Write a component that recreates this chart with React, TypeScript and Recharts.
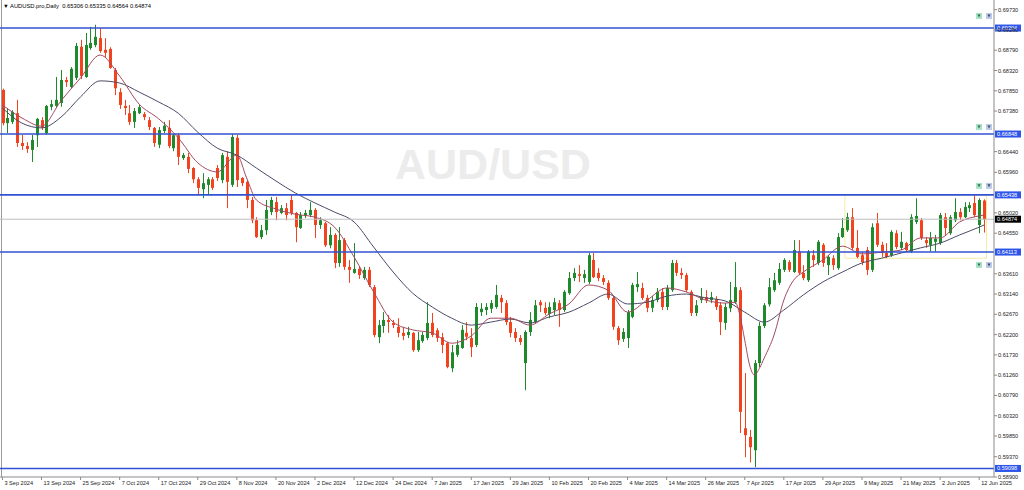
import React from 'react';
import { ComposedChart, Bar, Line, XAxis, YAxis, ReferenceLine, ReferenceArea } from 'recharts';

// daily AUDUSD candles, 3 Sep 2024 .. 13 Jun 2025 (bar index = position on the time scale)
const opens = [
  0.6787, 0.6710, 0.6713, 0.6733, 0.6664, 0.6657, 0.6648, 0.6682, 0.6717, 0.6687,
  0.6748, 0.6750, 0.6757, 0.6810, 0.6794, 0.6815, 0.6887, 0.6817, 0.6884, 0.6891,
  0.6907, 0.6880, 0.6882, 0.6833, 0.6782, 0.6750, 0.6733, 0.6713, 0.6733, 0.6731,
  0.6717, 0.6699, 0.6660, 0.6692, 0.6699, 0.6652, 0.6682, 0.6629, 0.6632, 0.6606,
  0.6580, 0.6557, 0.6567, 0.6580, 0.6606, 0.6578, 0.6632, 0.6567, 0.6676, 0.6583,
  0.6574, 0.6532, 0.6485, 0.6446, 0.6462, 0.6504, 0.6527, 0.6502, 0.6513, 0.6532,
  0.6502, 0.6467, 0.6495, 0.6497, 0.6509, 0.6474, 0.6478, 0.6427, 0.6451, 0.6386,
  0.6439, 0.6377, 0.6363, 0.6372, 0.6351, 0.6370, 0.6330, 0.6214, 0.6240, 0.6254,
  0.6247, 0.6238, 0.6224, 0.6219, 0.6224, 0.6184, 0.6205, 0.6212, 0.6247, 0.6230,
  0.6214, 0.6200, 0.6142, 0.6173, 0.6189, 0.6224, 0.6212, 0.6196, 0.6272, 0.6277,
  0.6280, 0.6284, 0.6305, 0.6293, 0.6249, 0.6226, 0.6212, 0.6154, 0.6226, 0.6249,
  0.6295, 0.6282, 0.6268, 0.6277, 0.6293, 0.6277, 0.6316, 0.6351, 0.6360, 0.6351,
  0.6342, 0.6393, 0.6363, 0.6351, 0.6340, 0.6305, 0.6235, 0.6210, 0.6212, 0.6261,
  0.6330, 0.6328, 0.6305, 0.6282, 0.6300, 0.6319, 0.6284, 0.6323, 0.6386, 0.6363,
  0.6358, 0.6319, 0.6270, 0.6300, 0.6307, 0.6300, 0.6302, 0.6288, 0.6247, 0.6281,
  0.6295, 0.6323, 0.6003, 0.5983, 0.5952, 0.6154, 0.6240, 0.6290, 0.6323, 0.6340,
  0.6370, 0.6388, 0.6365, 0.6412, 0.6363, 0.6346, 0.6404, 0.6386, 0.6428, 0.6381,
  0.6397, 0.6374, 0.6446, 0.6462, 0.6492, 0.6421, 0.6404, 0.6416, 0.6370, 0.6478,
  0.6428, 0.6409, 0.6404, 0.6455, 0.6421, 0.6432, 0.6412, 0.6481, 0.6485, 0.6439,
  0.6428, 0.6435, 0.6432, 0.6492, 0.6455, 0.6485, 0.6504, 0.6492, 0.6513, 0.6525,
  0.6474, 0.65306,
];
const highs = [
  0.6790, 0.6745, 0.6740, 0.6764, 0.6683, 0.6666, 0.6683, 0.6722, 0.6724, 0.6752,
  0.6764, 0.6817, 0.6833, 0.6817, 0.6840, 0.6896, 0.6903, 0.6919, 0.6933, 0.6938,
  0.6930, 0.6907, 0.6886, 0.6838, 0.6791, 0.6764, 0.6752, 0.6745, 0.6752, 0.6736,
  0.6724, 0.6701, 0.6701, 0.6713, 0.6717, 0.6685, 0.6687, 0.6641, 0.6641, 0.6608,
  0.6585, 0.6594, 0.6585, 0.6585, 0.6613, 0.6641, 0.6645, 0.6685, 0.6683, 0.6585,
  0.6578, 0.6539, 0.6492, 0.6474, 0.6532, 0.6539, 0.6539, 0.6520, 0.6525, 0.6543,
  0.6504, 0.6504, 0.6509, 0.6527, 0.6513, 0.6492, 0.6481, 0.6469, 0.6455, 0.6469,
  0.6444, 0.6393, 0.6432, 0.6377, 0.6377, 0.6377, 0.6335, 0.6254, 0.6272, 0.6265,
  0.6254, 0.6258, 0.6238, 0.6238, 0.6226, 0.6226, 0.6226, 0.6295, 0.6270, 0.6235,
  0.6224, 0.6203, 0.6196, 0.6207, 0.6242, 0.6249, 0.6235, 0.6293, 0.6293, 0.6293,
  0.6300, 0.6335, 0.6312, 0.6300, 0.6261, 0.6235, 0.6219, 0.6230, 0.6272, 0.6300,
  0.6300, 0.6295, 0.6295, 0.6305, 0.6300, 0.6323, 0.6365, 0.6374, 0.6381, 0.6370,
  0.6409, 0.6409, 0.6374, 0.6358, 0.6346, 0.6309, 0.6240, 0.6235, 0.6277, 0.6340,
  0.6365, 0.6340, 0.6312, 0.6309, 0.6328, 0.6328, 0.6335, 0.6393, 0.6393, 0.6374,
  0.6363, 0.6323, 0.6300, 0.6328, 0.6323, 0.6319, 0.6309, 0.6295, 0.6293, 0.6342,
  0.6388, 0.6330, 0.6131, 0.5999, 0.6161, 0.6249, 0.6293, 0.6351, 0.6363, 0.6386,
  0.6397, 0.6393, 0.6439, 0.6439, 0.6381, 0.6416, 0.6416, 0.6439, 0.6432, 0.6404,
  0.6404, 0.6455, 0.6490, 0.6502, 0.6513, 0.6462, 0.6412, 0.6423, 0.6478, 0.6502,
  0.6435, 0.6432, 0.6462, 0.6462, 0.6458, 0.6435, 0.6499, 0.6536, 0.6490, 0.6446,
  0.6458, 0.6451, 0.6502, 0.6502, 0.6497, 0.6536, 0.6513, 0.6527, 0.6527, 0.6543,
  0.6536, 0.65335,
];
const lows = [
  0.6705, 0.6687, 0.6708, 0.6655, 0.6648, 0.6641, 0.6620, 0.6655, 0.6694, 0.6683,
  0.6740, 0.6745, 0.6748, 0.6794, 0.6791, 0.6810, 0.6812, 0.6815, 0.6880, 0.6886,
  0.6873, 0.6861, 0.6836, 0.6775, 0.6743, 0.6729, 0.6706, 0.6699, 0.6731, 0.6717,
  0.6694, 0.6655, 0.6652, 0.6687, 0.6652, 0.6645, 0.6613, 0.6625, 0.6594, 0.6571,
  0.6543, 0.6536, 0.6543, 0.6555, 0.6576, 0.6571, 0.6513, 0.6562, 0.6562, 0.6564,
  0.6513, 0.6478, 0.6444, 0.6441, 0.6451, 0.6497, 0.6485, 0.6499, 0.6485, 0.6497,
  0.6434, 0.6465, 0.6490, 0.6492, 0.6444, 0.6465, 0.6423, 0.6420, 0.6374, 0.6377,
  0.6370, 0.6340, 0.6361, 0.6349, 0.6347, 0.6330, 0.6214, 0.6200, 0.6224, 0.6224,
  0.6235, 0.6214, 0.6207, 0.6212, 0.6180, 0.6180, 0.6201, 0.6207, 0.6214, 0.6203,
  0.6177, 0.6142, 0.6133, 0.6168, 0.6187, 0.6207, 0.6168, 0.6191, 0.6263, 0.6265,
  0.6270, 0.6280, 0.6270, 0.6242, 0.6214, 0.6203, 0.6196, 0.6091, 0.6217, 0.6245,
  0.6272, 0.6265, 0.6258, 0.6265, 0.6238, 0.6272, 0.6312, 0.6344, 0.6342, 0.6340,
  0.6337, 0.6351, 0.6344, 0.6335, 0.6300, 0.6231, 0.6196, 0.6203, 0.6189, 0.6258,
  0.6319, 0.6300, 0.6272, 0.6272, 0.6295, 0.6277, 0.6277, 0.6319, 0.6356, 0.6349,
  0.6319, 0.6263, 0.6263, 0.6293, 0.6293, 0.6293, 0.6277, 0.6219, 0.6231, 0.6272,
  0.6291, 0.5992, 0.5936, 0.5924, 0.5913, 0.6145, 0.6235, 0.6285, 0.6319, 0.6335,
  0.6365, 0.6365, 0.6363, 0.6358, 0.6346, 0.6342, 0.6377, 0.6381, 0.6377, 0.6358,
  0.6370, 0.6370, 0.6444, 0.6458, 0.6416, 0.6397, 0.6381, 0.6358, 0.6365, 0.6423,
  0.6400, 0.6397, 0.6400, 0.6418, 0.6416, 0.6412, 0.6409, 0.6476, 0.6439, 0.6421,
  0.6412, 0.6412, 0.6428, 0.6451, 0.6451, 0.6481, 0.6485, 0.6490, 0.6504, 0.6492,
  0.6455, 0.64564,
];
const closes = [
  0.6710, 0.6722, 0.6736, 0.6664, 0.6657, 0.6650, 0.6671, 0.6720, 0.6699, 0.6750,
  0.6754, 0.6764, 0.6810, 0.6805, 0.6836, 0.6889, 0.6819, 0.6891, 0.6896, 0.6910,
  0.6877, 0.6873, 0.6838, 0.6791, 0.6752, 0.6745, 0.6713, 0.6738, 0.6747, 0.6724,
  0.6701, 0.6664, 0.6694, 0.6704, 0.6657, 0.6682, 0.6632, 0.6636, 0.6604, 0.6580,
  0.6560, 0.6571, 0.6580, 0.6560, 0.6583, 0.6636, 0.6574, 0.6678, 0.6578, 0.6571,
  0.6532, 0.6485, 0.6446, 0.6462, 0.6509, 0.6532, 0.6504, 0.6513, 0.6497, 0.6502,
  0.6469, 0.6497, 0.6502, 0.6509, 0.6474, 0.6485, 0.6427, 0.6451, 0.6386, 0.6439,
  0.6377, 0.6370, 0.6372, 0.6358, 0.6370, 0.6335, 0.6219, 0.6242, 0.6254, 0.6249,
  0.6242, 0.6224, 0.6217, 0.6226, 0.6184, 0.6207, 0.6219, 0.6247, 0.6219, 0.6212,
  0.6196, 0.6145, 0.6179, 0.6196, 0.6231, 0.6215, 0.6191, 0.6284, 0.6280, 0.6284,
  0.6293, 0.6312, 0.6295, 0.6249, 0.6224, 0.6212, 0.6203, 0.6226, 0.6254, 0.6288,
  0.6288, 0.6270, 0.6284, 0.6295, 0.6277, 0.6319, 0.6351, 0.6363, 0.6356, 0.6360,
  0.6404, 0.6353, 0.6351, 0.6342, 0.6305, 0.6238, 0.6207, 0.6226, 0.6272, 0.6335,
  0.6337, 0.6305, 0.6282, 0.6300, 0.6319, 0.6284, 0.6328, 0.6386, 0.6363, 0.6358,
  0.6323, 0.6270, 0.6288, 0.6307, 0.6300, 0.6307, 0.6284, 0.6249, 0.6284, 0.6300,
  0.6330, 0.6041, 0.5987, 0.5959, 0.6154, 0.6240, 0.6288, 0.6330, 0.6346, 0.6372,
  0.6393, 0.6370, 0.6416, 0.6363, 0.6351, 0.6412, 0.6393, 0.6435, 0.6386, 0.6400,
  0.6381, 0.6446, 0.6467, 0.6492, 0.6421, 0.6400, 0.6388, 0.6370, 0.6469, 0.6428,
  0.6409, 0.6400, 0.6458, 0.6423, 0.6435, 0.6416, 0.6492, 0.6495, 0.6444, 0.6432,
  0.6444, 0.6442, 0.6497, 0.6467, 0.6492, 0.6504, 0.6492, 0.6516, 0.6520, 0.6497,
  0.6532, 0.64874,
];

// moving averages at a few bars: [bar, value]
const fastMa = [
  [0, 0.6752], [4, 0.6722], [8, 0.6703], [12, 0.6762], [16, 0.6815], [20, 0.6868],
  [24, 0.6819], [28, 0.6754], [32, 0.6720], [36, 0.6676], [40, 0.6618], [44, 0.6597],
  [48, 0.6636], [50, 0.6583], [52, 0.6532], [56, 0.6511], [60, 0.6499], [64, 0.6492],
  [68, 0.6469], [72, 0.6400], [76, 0.6319], [80, 0.6249], [84, 0.6231], [88, 0.6224],
  [92, 0.6200], [96, 0.6217], [100, 0.6258], [104, 0.6258], [108, 0.6242], [112, 0.6268],
  [116, 0.6291], [120, 0.6335], [124, 0.6323], [128, 0.6272], [132, 0.6300], [136, 0.6328],
  [140, 0.6319], [144, 0.6300], [148, 0.6293], [150, 0.6295], [151, 0.6265], [152, 0.6207],
  [153, 0.6149], [154, 0.6126], [155, 0.6142], [156, 0.6166], [158, 0.6219], [160, 0.6300],
  [162, 0.6346], [164, 0.6365], [168, 0.6393], [172, 0.6425], [176, 0.6407], [180, 0.6411],
  [184, 0.6416], [188, 0.6444], [192, 0.6444], [196, 0.6481], [200, 0.6495], [201, 0.6497],
];
const slowMa = [
  [0, 0.6745], [4, 0.6710], [8, 0.6699], [12, 0.6724], [16, 0.6771], [20, 0.6808],
  [24, 0.6803], [28, 0.6782], [32, 0.6759], [36, 0.6733], [40, 0.6689], [44, 0.6652],
  [48, 0.6636], [52, 0.6606], [56, 0.6576], [60, 0.6548], [64, 0.6525], [68, 0.6504],
  [72, 0.6481], [76, 0.6423], [80, 0.6365], [84, 0.6316], [88, 0.6284], [92, 0.6258],
  [96, 0.6242], [100, 0.6249], [104, 0.6256], [108, 0.6247], [112, 0.6261], [116, 0.6272],
  [120, 0.6293], [124, 0.6314], [128, 0.6291], [132, 0.6295], [136, 0.6309], [140, 0.6314],
  [144, 0.6305], [148, 0.6298], [152, 0.6272], [156, 0.6249], [160, 0.6277], [164, 0.6312],
  [168, 0.6342], [172, 0.6365], [176, 0.6386], [180, 0.6397], [184, 0.6409], [188, 0.6421],
  [192, 0.6432], [196, 0.6451], [200, 0.6469], [201, 0.6474],
];

const dateTicks = [0, 8, 16, 24, 32, 40, 48, 56, 64, 72, 80, 88, 96, 104, 112, 120, 128, 136, 144, 152, 160, 168, 176, 184, 192, 200];
const dateLabels = [
  '3 Sep 2024', '13 Sep 2024', '25 Sep 2024', '7 Oct 2024', '17 Oct 2024', '29 Oct 2024',
  '8 Nov 2024', '20 Nov 2024', '2 Dec 2024', '12 Dec 2024', '24 Dec 2024', '7 Jan 2025',
  '17 Jan 2025', '29 Jan 2025', '10 Feb 2025', '20 Feb 2025', '4 Mar 2025', '14 Mar 2025',
  '26 Mar 2025', '7 Apr 2025', '17 Apr 2025', '29 Apr 2025', '9 May 2025', '21 May 2025',
  '2 Jun 2025', '12 Jun 2025',
];
const priceTicks = [
  0.6973, 0.6926, 0.6879, 0.6832, 0.6785, 0.6738, 0.6644, 0.6596, 0.6502, 0.6455,
  0.6361, 0.6314, 0.6267, 0.622, 0.6173, 0.6126, 0.6079, 0.6032, 0.5985, 0.5937, 0.589,
];

// horizontal levels drawn on the chart, with the offset of their alert icons
const levels = [0.69304, 0.66848, 0.65438, 0.64113, 0.59098];
const levelIcons = [-12, -7, -9, 13, null];
const lastPrice = 0.64874;
const boxFrom = 173;
const boxLow = 0.6397;

const BULL = '#1f8a2c';
const BEAR = '#f2421e';
const LEVEL = '#3352d2';
const FONT = '"Liberation Sans", Arial, sans-serif';
const PLOT_RIGHT = 994;
const PAD = { left: 0, right: 7.5 };

const data = opens.map((o, i) => ({ i, o, h: highs[i], l: lows[i], c: closes[i] }));
const fastData = fastMa.map(([i, v]) => ({ i, v }));
const slowData = slowMa.map(([i, v]) => ({ i, v }));

function Candle(props: any) {
  const { x, y, width, height, payload } = props;
  if (!payload) return null;
  const { o, h, l, c } = payload;
  const k = h > l ? height / (h - l) : 0;
  const yOf = (v: number) => y + (h - v) * k;
  const color = c >= o ? BULL : BEAR;
  const cx = Math.round(x + width / 2) + 0.5;
  const top = Math.min(yOf(o), yOf(c));
  const bh = Math.max(1, Math.abs(yOf(o) - yOf(c)));
  return (
    <g>
      <line x1={cx} x2={cx} y1={y} y2={y + height} stroke={color} strokeWidth={1} />
      <rect x={cx - 1.5} y={top} width={3} height={bh} fill={color} />
    </g>
  );
}

function DateTick(props: any) {
  const { x, y, payload } = props;
  const label = dateLabels[dateTicks.indexOf(payload.value)];
  return (
    <text x={x + 2} y={y + 5} fontSize={5.6} fill="#222" fontFamily={FONT} textAnchor="start">
      {label}
    </text>
  );
}

function PriceTick(props: any) {
  const { x, y, payload } = props;
  return (
    <text x={x} y={y + 2} fontSize={5.6} fill="#222" fontFamily={FONT} textAnchor="start">
      {Number(payload.value).toFixed(5)}
    </text>
  );
}

function AlertIcons({ y }: { y: number }) {
  return (
    <g>
      <rect x={976} y={y - 3} width={6} height={6} fill="#a8e2c8" />
      <path d={`M977.5 ${y - 1.5} h3 l-1.5 3 z`} fill="#2f6a48" />
      <rect x={986} y={y - 3} width={6} height={6} fill="#bfcbe6" />
      <path d={`M987.5 ${y - 1.5} h3 l-1.5 3 z`} fill="#3a4a70" />
    </g>
  );
}

function Badge(props: any) {
  const { viewBox, text, fill, iconDy } = props;
  if (!viewBox) return null;
  const y = viewBox.y;
  return (
    <g>
      {iconDy != null && <AlertIcons y={y + iconDy} />}
      <rect x={PLOT_RIGHT + 1} y={y - 3.5} width={26} height={7} fill={fill} />
      <text x={PLOT_RIGHT + 3} y={y + 2} fontSize={5.6} fill="#fff" fontFamily={FONT}>
        {text}
      </text>
    </g>
  );
}

export default function App() {
  return (
    <div style={{ position: 'relative', width: 1024, height: 490, background: '#fff', overflow: 'hidden' }}>
      <style>{'body{margin:0}'}</style>
      <div
        style={{
          position: 'absolute', left: 395, top: 143, fontFamily: FONT, fontWeight: 700,
          fontSize: 43, lineHeight: 1, color: '#ececec', whiteSpace: 'nowrap',
        }}
      >
        AUD/USD
      </div>
      <div style={{ position: 'absolute', left: 1, top: 0, width: 1, height: 477, background: '#9a9a9a' }} />
      <div style={{ position: 'absolute', left: 0, top: 0 }}>
        <ComposedChart width={1024} height={490} data={data} margin={{ top: 0, right: 0, bottom: 0, left: 0 }} barCategoryGap={0}>
          <XAxis
            dataKey="i"
            type="category"
            ticks={dateTicks}
            interval={0}
            tick={<DateTick />}
            tickSize={3}
            tickMargin={0}
            height={13}
            padding={PAD}
            axisLine={{ stroke: '#8a8a8a' }}
            tickLine={{ stroke: '#8a8a8a' }}
          />
          <XAxis
            xAxisId="n"
            dataKey="i"
            type="number"
            domain={[-0.5, 201.5]}
            padding={PAD}
            hide
          />
          <YAxis
            orientation="right"
            type="number"
            domain={[0.589, 0.69954]}
            allowDataOverflow
            ticks={priceTicks}
            interval={0}
            tick={<PriceTick />}
            tickSize={3}
            tickMargin={1}
            width={30}
            axisLine={{ stroke: '#8a8a8a' }}
            tickLine={{ stroke: '#8a8a8a' }}
          />
          <ReferenceArea
            x1={boxFrom}
            y1={boxLow}
            y2={levels[2]}
            stroke="#f3eca0"
            strokeWidth={1}
            fill="none"
            ifOverflow="visible"
          />
          <Bar dataKey={(d: any) => [d.l, d.h]} shape={Candle} isAnimationActive={false} />
          <Line
            xAxisId="n"
            data={slowData}
            dataKey="v"
            type="monotone"
            stroke="#4b4b68"
            strokeWidth={1}
            dot={false}
            activeDot={false}
            isAnimationActive={false}
          />
          <Line
            xAxisId="n"
            data={fastData}
            dataKey="v"
            type="monotone"
            stroke="#a24a62"
            strokeWidth={1}
            dot={false}
            activeDot={false}
            isAnimationActive={false}
          />
          <ReferenceLine
            y={lastPrice}
            stroke="#bdbdbd"
            strokeWidth={1}
            label={<Badge text={lastPrice.toFixed(5)} fill="#000" />}
          />
          {levels.map((v, k) => (
            <ReferenceLine
              key={v}
              y={v}
              stroke={LEVEL}
              strokeWidth={1.6}
              label={<Badge text={v.toFixed(5)} fill="#2d55ea" iconDy={levelIcons[k]} />}
            />
          ))}
        </ComposedChart>
      </div>
      <div
        style={{
          position: 'absolute', left: 3, top: 3, fontFamily: FONT, fontSize: 5.8, lineHeight: '7px',
          color: '#000', whiteSpace: 'pre',
        }}
      >
        {'▼ AUDUSD.pro,Daily  0.65306 0.65335 0.64564 0.64874'}
      </div>
    </div>
  );
}
